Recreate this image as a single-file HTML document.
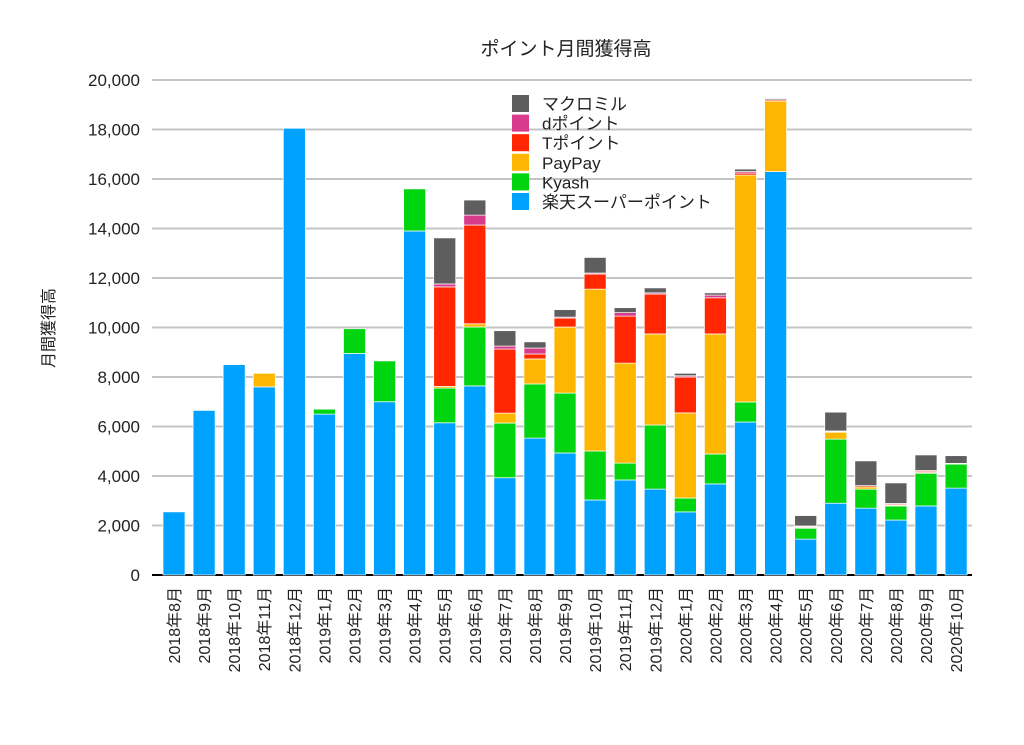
<!DOCTYPE html>
<html><head><meta charset="utf-8"><style>
html,body{margin:0;padding:0;background:#fff;width:1024px;height:745px;overflow:hidden}
svg text{font-family:"Liberation Sans","Noto Sans CJK JP",sans-serif;fill:#222}
</style></head><body>
<svg id="chart" width="1024" height="745" xmlns="http://www.w3.org/2000/svg">
<text x="566" y="55" font-size="19" text-anchor="middle">ポイント月間獲得高</text>
<text x="54" y="328" font-size="16" text-anchor="middle" transform="rotate(-90 54 328)">月間獲得高</text>
<g id="grid"></g>
<g id="yticks"></g>
<g id="bars"></g>
<g id="xticks"></g>
<g id="legend"></g>
</svg>
<script>
const categories=["2018年8月","2018年9月","2018年10月","2018年11月","2018年12月","2019年1月","2019年2月","2019年3月","2019年4月","2019年5月","2019年6月","2019年7月","2019年8月","2019年9月","2019年10月","2019年11月","2019年12月","2020年1月","2020年2月","2020年3月","2020年4月","2020年5月","2020年6月","2020年7月","2020年8月","2020年9月","2020年10月"];
const rakuten=[2550,6650,8500,7600,18050,6500,8950,7000,13900,6150,7640,3930,5530,4930,3030,3840,3470,2550,3680,6180,16300,1450,2900,2700,2220,2790,3510];
const kyash=[0,0,0,0,0,200,1000,1650,1700,1400,2380,2210,2190,2420,1980,680,2590,560,1210,810,0,450,2590,770,570,1330,970];
const paypay=[0,0,0,550,0,0,0,0,0,70,130,400,1010,2670,6540,4040,3680,3440,4850,9170,2850,20,290,90,30,20,30];
const tpoint=[0,0,0,0,0,0,0,0,0,4020,3990,2590,200,360,610,1900,1610,1450,1460,80,50,30,20,50,50,60,0];
const dpoint=[0,0,0,0,0,0,0,0,0,120,400,120,240,40,40,140,50,50,110,60,0,30,20,0,20,20,0];
const macro=[0,0,0,0,0,0,0,0,0,1860,610,620,250,300,630,200,200,100,90,100,50,420,760,1000,830,630,310];
const yTicks=[0,2000,4000,6000,8000,10000,12000,14000,16000,18000,20000];
const yTickLabels=["0","2,000","4,000","6,000","8,000","10,000","12,000","14,000","16,000","18,000","20,000"];
const seriesNames=["楽天スーパーポイント","Kyash","PayPay","Tポイント","dポイント","マクロミル"];
const seriesColors=["#00a2ff","#00d50f","#ffb600","#ff2600","#d83b8b","#5e5e5e"];
const seriesKeys=["rakuten","kyash","paypay","tpoint","dpoint","macro"];
const series=[rakuten,kyash,paypay,tpoint,dpoint,macro];

const NS="http://www.w3.org/2000/svg";
const X0=152,X1=972,Y0=575,Y1=80,YMAX=20000;
const step=(X1-X0)/categories.length*1.0;
const xPos=i=>X0+22+i*30.08;
const yPos=v=>Y0-(v/YMAX)*(Y0-Y1);
function mk(tag,attrs,parent){const e=document.createElementNS(NS,tag);for(const k in attrs)e.setAttribute(k,attrs[k]);parent.appendChild(e);return e;}
const grid=document.getElementById('grid'),yt=document.getElementById('yticks'),bars=document.getElementById('bars'),xt=document.getElementById('xticks'),lg=document.getElementById('legend');
yTicks.forEach((v,i)=>{
  const y=yPos(v);
  if(v>0){const l=mk('line',{x1:X0,x2:X1,y1:y,y2:y,stroke:'#c4c4c4','stroke-width':2},grid);
  
  }
  const t=mk('text',{x:140,y:y+6,'font-size':17,'text-anchor':'end'},yt);
  t.textContent=yTickLabels[i];
  
  
});
categories.forEach((c,i)=>{
  const cx=xPos(i);let acc=0;
  series.forEach((s,k)=>{
    const v=s[i];if(v<=0)return;
    const yb=yPos(acc),yt2=yPos(acc+v);acc+=v;
    const r=mk('rect',{x:cx-11,y:yt2,width:22,height:Math.max(yb-yt2,0.8),fill:seriesColors[k],stroke:'#fff','stroke-width':0.7},bars);
    
    
  });
  const t=mk('text',{x:0,y:0,'font-size':16,'text-anchor':'end',transform:`translate(${cx+6},587) rotate(-90)`},xt);
  t.textContent=c;
  
  
});
const ax=mk('line',{x1:X0,x2:X1,y1:Y0,y2:Y0,stroke:'#000','stroke-width':2},grid);


for(let k=5;k>=0;k--){
  const row=5-k,y=95+row*19.6;
  const r=mk('rect',{x:512,y:y,width:17,height:17,fill:seriesColors[k]},lg);
  
  
  const t=mk('text',{x:542,y:y+15,'font-size':17},lg);
  t.textContent=seriesNames[k];
  
  
}
</script>
</body></html>
